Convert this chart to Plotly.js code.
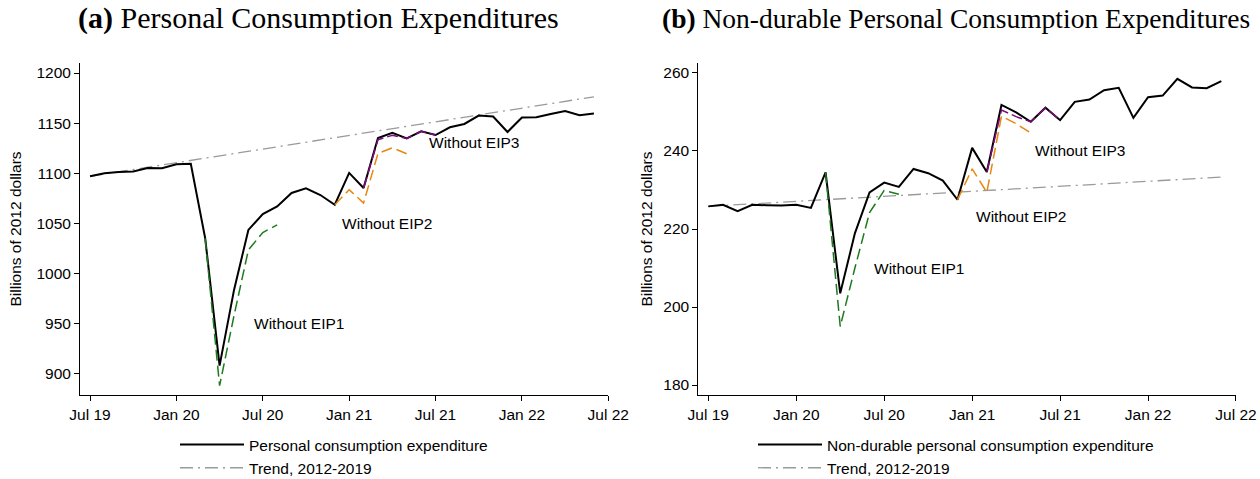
<!DOCTYPE html>
<html>
<head>
<meta charset="utf-8">
<script src="https://cdn.plot.ly/plotly-3.0.1.min.js"></script>
<style>html,body{margin:0;padding:0;background:#fff;}#chart{width:1260px;height:479px;}</style>
</head>
<body>
<div id="chart"></div>
<script>
// Month categories (monthly, Jul 2019 - Jul 2022)
const months = ["Jul 19","Aug 19","Sep 19","Oct 19","Nov 19","Dec 19","Jan 20","Feb 20","Mar 20","Apr 20","May 20","Jun 20",
  "Jul 20","Aug 20","Sep 20","Oct 20","Nov 20","Dec 20","Jan 21","Feb 21","Mar 21","Apr 21","May 21","Jun 21",
  "Jul 21","Aug 21","Sep 21","Oct 21","Nov 21","Dec 21","Jan 22","Feb 22","Mar 22","Apr 22","May 22","Jun 22","Jul 22"];
const tickLabels = ["Jul 19","Jan 20","Jul 20","Jan 21","Jul 21","Jan 22","Jul 22"];
const dataMonths = ["Jul 19","Aug 19","Sep 19","Oct 19","Nov 19","Dec 19","Jan 20","Feb 20","Mar 20","Apr 20","May 20","Jun 20",
  "Jul 20","Aug 20","Sep 20","Oct 20","Nov 20","Dec 20","Jan 21","Feb 21","Mar 21","Apr 21","May 21","Jun 21",
  "Jul 21","Aug 21","Sep 21","Oct 21","Nov 21","Dec 21","Jan 22","Feb 22","Mar 22","Apr 22","May 22","Jun 22"];
const eip1Months = ["Mar 20","Apr 20","May 20","Jun 20","Jul 20","Aug 20"];
const eip2Months = ["Dec 20","Jan 21","Feb 21","Mar 21","Apr 21","May 21"];
const eip3Months = ["Feb 21","Mar 21","Apr 21","May 21","Jun 21","Jul 21"];
const trendMonths = ["Jul 19","Jun 22"];

// (a) Personal consumption expenditures, billions of 2012 dollars
const pce = [1097.1,1100.1,1101.4,1101.8,1105.4,1105.1,1109.1,1109.5,1035.3,908.3,983.5,1043.6,
  1059.3,1067.0,1080.4,1085.0,1078.4,1068.7,1100.4,1085.4,1135.2,1140.5,1134.8,1141.9,
  1138.2,1145.9,1149.2,1157.6,1156.6,1141.2,1155.6,1155.9,1159.2,1162.2,1157.9,1159.6];
const pceNoEIP1 = [1035.3,888.3,958.0,1023.6,1041.0,1048.6];
const pceNoEIP2 = [1068.7,1083.7,1070.4,1119.8,1125.5,1119.5];
const pceNoEIP3 = [1085.4,1133.5,1137.9,1134.8,1141.9,1138.2];
const pceTrend = [1097.0,1176.3];

// (b) Non-durable personal consumption expenditures
const ndpce = [225.8,226.2,224.6,226.2,226.1,226.0,226.2,225.4,234.5,203.5,218.9,229.4,
  231.9,230.8,235.4,234.3,232.4,227.5,240.8,234.6,251.8,249.9,247.5,251.1,
  247.9,252.6,253.2,255.6,256.2,248.5,253.8,254.2,258.5,256.3,256.1,257.9];
const ndpceNoEIP1 = [234.5,195.0,210.0,224.2,229.9,228.9];
const ndpceNoEIP2 = [227.5,235.4,229.4,248.9,247.0,244.6];
const ndpceNoEIP3 = [234.6,250.5,248.8,247.5,251.1,247.9];
const ndpceTrend = [225.8,233.3];

const yTicksA = [900,950,1000,1050,1100,1150,1200];
const yTicksB = [180,200,220,240,260];

const GREEN = "#1f7a1f", ORANGE = "#E8870E", PURPLE = "#7d0a7d", GREY = "#9a9a9a";
const SANS = "Liberation Sans, Arial, sans-serif";
const SERIF = "Liberation Serif, Times New Roman, serif";

function panel(xa, ya, leg, main, mainName, trend, e1, e2, e3) {
  return [
    {x: trendMonths, y: trend, xaxis: xa, yaxis: ya, legend: leg, type: "scatter", mode: "lines",
     name: "Trend, 2012-2019", legendrank: 2, line: {color: GREY, width: 1.3, dash: "13px,5px,2px,5px"}},
    {x: dataMonths, y: main, xaxis: xa, yaxis: ya, legend: leg, type: "scatter", mode: "lines",
     name: mainName, legendrank: 1, line: {color: "#000", width: 2}},
    {x: eip1Months, y: e1, xaxis: xa, yaxis: ya, showlegend: false, type: "scatter", mode: "lines",
     name: "Without EIP1", line: {color: GREEN, width: 1.5, dash: "11px,5px"}},
    {x: eip2Months, y: e2, xaxis: xa, yaxis: ya, showlegend: false, type: "scatter", mode: "lines",
     name: "Without EIP2", line: {color: ORANGE, width: 1.5, dash: "11px,5px"}},
    {x: eip3Months, y: e3, xaxis: xa, yaxis: ya, showlegend: false, type: "scatter", mode: "lines",
     name: "Without EIP3", line: {color: PURPLE, width: 1.5, dash: "11px,4px"}}
  ];
}

const traces = [].concat(
  panel("x", "y", "legend", pce, "Personal consumption expenditure", pceTrend, pceNoEIP1, pceNoEIP2, pceNoEIP3),
  panel("x2", "y2", "legend2", ndpce, "Non-durable personal consumption expenditure", ndpceTrend, ndpceNoEIP1, ndpceNoEIP2, ndpceNoEIP3)
);

const tickFont = {family: SANS, size: 15.5, color: "#000"};
function xAxis(domain, rmin, anchor) {
  return {domain: domain, anchor: anchor, type: "category", categoryorder: "array", categoryarray: months,
    range: [rmin, 36], tickmode: "array", tickvals: tickLabels, ticktext: tickLabels,
    showgrid: false, zeroline: false, showline: true, linecolor: "#000", linewidth: 1,
    ticks: "outside", ticklen: 5, tickcolor: "#000", tickfont: tickFont, automargin: false, fixedrange: true};
}
function yAxis(range, ticks, anchor, standoff) {
  return {domain: [0, 1], anchor: anchor, range: range, tickmode: "array", tickvals: ticks,
    showgrid: false, zeroline: false, showline: true, linecolor: "#000", linewidth: 1,
    ticks: "outside", ticklen: 5, tickcolor: "#000", tickfont: tickFont, automargin: false,
    title: {text: "Billions of 2012 dollars", font: {family: SANS, size: 15.5, color: "#000"}, standoff: standoff},
    fixedrange: true};
}

const legendCommon = {orientation: "v", xanchor: "left", yanchor: "top", xref: "paper", yref: "container",
  bgcolor: "rgba(0,0,0,0)", borderwidth: 0, font: {family: SANS, size: 15.5, color: "#000"},
  itemwidth: 64, tracegroupgap: 0, traceorder: "normal"};

const layout = {
  width: 1260, height: 479,
  margin: {l: 80, r: 24, t: 63, b: 84},
  paper_bgcolor: "#fff", plot_bgcolor: "#fff",
  showlegend: true,
  xaxis: xAxis([0, 0.45701], -0.696, "y"),
  yaxis: yAxis([879.0, 1210.0], yTicksA, "x", 10),
  xaxis2: xAxis([0.53486, 1.0], -0.683, "y2"),
  yaxis2: yAxis([177.44, 262.56], yTicksB, "x2", 6),
  legend: Object.assign({}, legendCommon, {x: (175 - 80) / 1156, y: 1 - 428 / 479}),
  legend2: Object.assign({}, legendCommon, {x: (753 - 80) / 1156, y: 1 - 428 / 479}),
  annotations: [
    {text: "<b>(a)</b> Personal Consumption Expenditures", xref: "paper", yref: "paper", x: 0.2067, y: 1.1355,
     xanchor: "center", yanchor: "middle", showarrow: false, font: {family: SERIF, size: 30, color: "#000"}},
    {text: "<b>(b)</b> Non-durable Personal Consumption Expenditures", xref: "paper", yref: "paper", x: 0.7578, y: 1.1355,
     xanchor: "center", yanchor: "middle", showarrow: false, font: {family: SERIF, size: 27.5, color: "#000"}},
    {text: "Without EIP1", xref: "x", yref: "y", x: 11.28, y: 950.1, xanchor: "left", yanchor: "middle", showarrow: false, font: tickFont},
    {text: "Without EIP2", xref: "x", yref: "y", x: 17.34, y: 1050.3, xanchor: "left", yanchor: "middle", showarrow: false, font: tickFont},
    {text: "Without EIP3", xref: "x", yref: "y", x: 23.38, y: 1130.5, xanchor: "left", yanchor: "middle", showarrow: false, font: tickFont},
    {text: "Without EIP1", xref: "x2", yref: "y2", x: 11.14, y: 210.0, xanchor: "left", yanchor: "middle", showarrow: false, font: tickFont},
    {text: "Without EIP2", xref: "x2", yref: "y2", x: 18.16, y: 223.2, xanchor: "left", yanchor: "middle", showarrow: false, font: tickFont},
    {text: "Without EIP3", xref: "x2", yref: "y2", x: 22.13, y: 240.0, xanchor: "left", yanchor: "middle", showarrow: false, font: tickFont}
  ]
};

Plotly.newPlot("chart", traces, layout, {displayModeBar: false, staticPlot: true});
</script>
</body>
</html>
